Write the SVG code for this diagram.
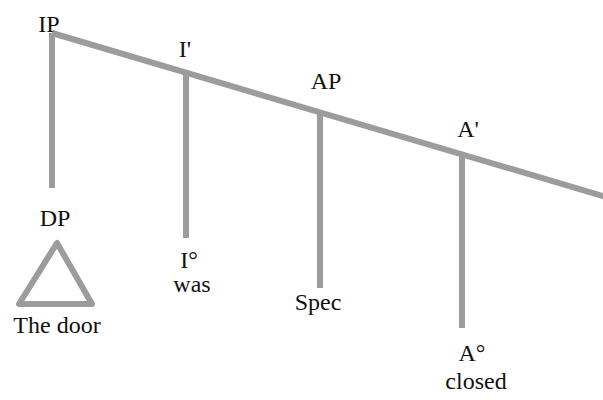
<svg xmlns="http://www.w3.org/2000/svg" width="603" height="400" viewBox="0 0 603 400">
<style>
.l{stroke:#9c9c9c;stroke-width:6;fill:none;stroke-linecap:butt;stroke-linejoin:round}
.t{font-family:"Liberation Serif","Times New Roman",serif;font-size:24px;fill:#111;text-anchor:middle}
</style>
<rect width="603" height="400" fill="#fff"/>
<g id="connectors">
<line class="l" x1="52" y1="33" x2="606" y2="197"/>
<line class="l" x1="52" y1="33" x2="52" y2="188"/>
<line class="l" x1="186" y1="73" x2="186" y2="238"/>
<line class="l" x1="320" y1="113" x2="320" y2="288"/>
<line class="l" x1="462" y1="156" x2="462" y2="328"/>
</g>
<g id="IP"><text class="t" x="49" y="32">IP</text></g>
<g id="Ibar"><text class="t" x="185" y="57">I'</text></g>
<g id="AP"><text class="t" x="326" y="89">AP</text></g>
<g id="Abar"><text class="t" x="468" y="137">A'</text></g>
<g id="DP"><text class="t" x="55" y="226">DP</text>
<polygon class="l" points="57,243 19,304 92,304"/>
<text class="t" x="57" y="333">The door</text></g>
<g id="I0"><text class="t" x="189" y="268">I°</text><text class="t" x="192" y="292">was</text></g>
<g id="Spec"><text class="t" x="318" y="310">Spec</text></g>
<g id="A0"><text class="t" x="472" y="361">A°</text><text class="t" x="476" y="389">closed</text></g>
</svg>
